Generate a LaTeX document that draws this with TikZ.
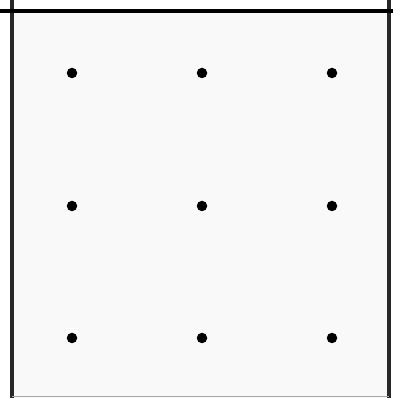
\documentclass[tikz,border=0pt]{standalone}
\usepackage{tikz}
\usetikzlibrary{positioning}
\definecolor{frameGray}{RGB}{40,40,40}
\definecolor{paperWhite}{RGB}{249,249,249}

\begin{document}
\begin{tikzpicture}[
    x=1pt,
    y=1pt,
    dot/.style={circle, fill=black, inner sep=0pt, minimum size=10.5pt}
]

% Picture frame
\useasboundingbox (0,0) rectangle (393,398);
\fill[paperWhite] (12,0) rectangle (389,386.5);

% Frame lines
\draw[
    frameGray,
    line width=4pt
]
(12,398) -- (12,0);

\draw[
    frameGray,
    line width=3.5pt
]
(389,398) -- (389,0);

\draw[
    black,
    line width=4pt
]
(0,386.5) -- (393,386.5);

\draw[
    black!35,
    line width=1pt
]
(12,1.5) -- (389,1.5);

% 3x3 grid of dots
\foreach \col/\x in {1/72,2/202,3/332}{
    \foreach \row/\y in {1/325,2/192,3/60}{
        \node[dot] (d\row\col) at (\x,\y) {};
    }
}

\end{tikzpicture}
\end{document}
